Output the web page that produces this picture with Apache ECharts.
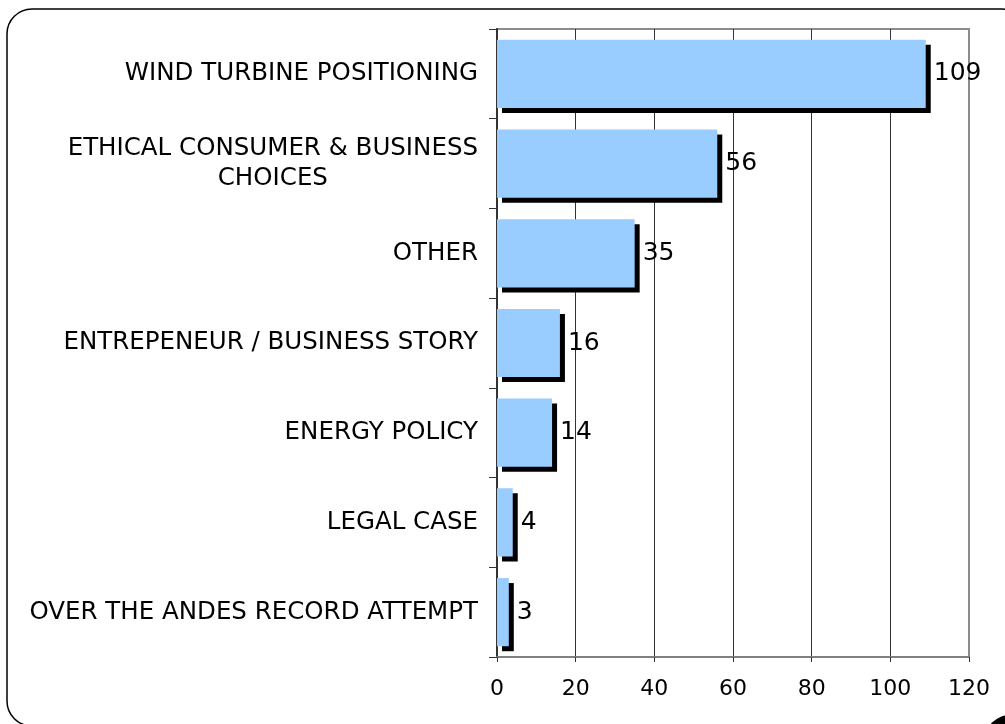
<!DOCTYPE html>
<html>
<head>
<meta charset="utf-8">
<script src="https://cdn.jsdelivr.net/npm/echarts@6/dist/echarts.min.js"></script>
<style>
html,body{margin:0;padding:0;background:#fff;}
#chart{width:1005px;height:724px;}
</style>
</head>
<body>
<div id="chart"></div>
<script>
const categories = [
  'WIND TURBINE POSITIONING',
  'ETHICAL CONSUMER & BUSINESS\nCHOICES',
  'OTHER',
  'ENTREPENEUR / BUSINESS STORY',
  'ENERGY POLICY',
  'LEGAL CASE',
  'OVER THE ANDES RECORD ATTEMPT'
];
const values = [109, 56, 35, 16, 14, 4, 3];
const xMin = 0, xMax = 120, xStep = 20;

const chart = echarts.init(document.getElementById('chart'), null, {renderer: 'canvas'});
const FONT = 'DejaVu Sans';

chart.setOption({
  backgroundColor: '#ffffff',
  animation: false,
  textStyle: {fontFamily: FONT, color: '#000'},
  graphic: [
    {type: 'rect', z: -10, shape: {x: 7, y: 9, width: 1020, height: 717, r: 25},
     style: {fill: 'none', stroke: '#000', lineWidth: 1.5}},
    {type: 'circle', z: -10, shape: {cx: 1010, cy: 740, r: 25}, style: {fill: '#000'}}
  ],
  grid: {left: 497, top: 29, width: 472, height: 628, show: true,
         borderColor: '#8c8c8c', borderWidth: 2, backgroundColor: 'transparent'},
  xAxis: {
    type: 'value', min: xMin, max: xMax, interval: xStep,
    axisLine: {show: true, lineStyle: {color: '#808080', width: 2}},
    axisTick: {show: true, length: 5, lineStyle: {color: '#333', width: 1}},
    axisLabel: {fontSize: 22, color: '#000', fontFamily: FONT, margin: 21},
    splitLine: {show: true, showMinLine: false, showMaxLine: false,
                lineStyle: {color: '#333', width: 1}}
  },
  yAxis: {
    type: 'category', data: categories, inverse: true,
    axisLine: {show: true, lineStyle: {color: '#333', width: 2}},
    axisTick: {show: true, length: 8, inside: false, lineStyle: {color: '#333', width: 1}},
    axisLabel: {
      fontSize: 24.5, color: '#000', fontFamily: FONT, margin: 19, lineHeight: 30,
      formatter: function (v) {
        const parts = v.split('\n');
        if (parts.length === 1) return v;
        return parts.map(p => '{c|' + p + '}').join('\n');
      },
      rich: {c: {align: 'center', fontSize: 24.5, lineHeight: 30, fontFamily: FONT, color: '#000'}}
    }
  },
  series: [{
    type: 'bar',
    data: values,
    barWidth: '76%',
    itemStyle: {
      color: '#99CCFF',
      shadowColor: '#000',
      shadowBlur: 0,
      shadowOffsetX: 5,
      shadowOffsetY: 5
    },
    label: {
      show: true, position: 'right', distance: 8,
      fontSize: 25, color: '#000', fontFamily: FONT
    }
  }]
});
</script>
</body>
</html>
